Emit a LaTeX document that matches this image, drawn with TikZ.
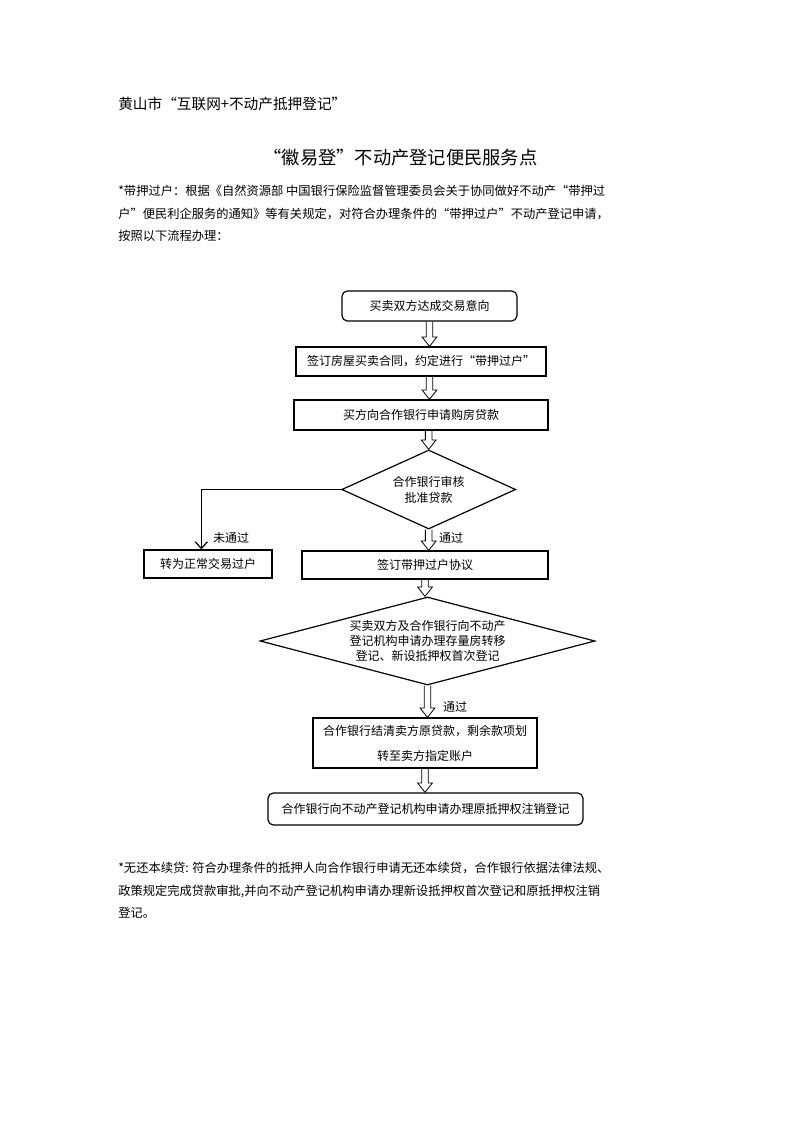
\documentclass[tikz,border=0pt]{standalone}
\usepackage{fontspec}
\setmainfont{Noto Sans CJK SC}
\usetikzlibrary{shapes.geometric,arrows.meta,calc}
\tikzset{
  box/.style={draw,line width=0.9pt,inner sep=0pt,align=center,font=\fontsize{9}{12}\selectfont},
  rbox/.style={box,rounded corners=4pt},
  dia/.style={box,diamond,aspect=2.2},
  blockarrow/.style={draw,line width=0.6pt,to path={let \p1=(\tikztostart),\p2=(\tikztotarget) in
    (\x1-2.5pt,\y1) -- (\x1-2.5pt,\y2+7pt) -- (\x1-5.5pt,\y2+7pt) -- (\x1,\y2)
    -- (\x1+5.5pt,\y2+7pt) -- (\x1+2.5pt,\y2+7pt) -- (\x1+2.5pt,\y1)}},
  lbl/.style={font=\fontsize{9}{11}\selectfont,inner sep=0pt},
  para/.style={anchor=north west,align=left,inner sep=0pt,font=\fontsize{9.2}{16.9}\selectfont}
}
\begin{document}
\begin{tikzpicture}[x=0.75pt,y=-0.75pt]
  \fill[white] (0,0) rectangle (793,1122);

  \node[anchor=west,inner sep=0pt,font=\fontsize{11}{12}\selectfont] (hd) at (118,104) {黄山市“互联网+不动产抵押登记”};
  \node[inner sep=0pt,font=\fontsize{13.7}{16}\selectfont] (tt) at (400.5,158) {“徽易登”不动产登记便民服务点};
  \node[para] (p1) at (118,185) {*带押过户：根据《自然资源部 中国银行保险监督管理委员会关于协同做好不动产“带押过\\户”便民利企服务的通知》等有关规定，对符合办理条件的“带押过户”不动产登记申请，\\按照以下流程办理：};

  \node[rbox,minimum width=131.25pt,minimum height=22.5pt] (a) at (429.5,306) {买卖双方达成交易意向};
  \node[box,minimum width=187.5pt,minimum height=21.75pt] (b) at (421,361.5) {签订房屋买卖合同，约定进行“带押过户”};
  \node[box,minimum width=190.5pt,minimum height=22.5pt] (c) at (421,415) {买方向合作银行申请购房贷款};
  \node[dia,minimum width=130.5pt,minimum height=59.25pt] (d) at (428.7,489.5) {合作银行审核\\批准贷款};
  \node[box,minimum width=96pt,minimum height=21pt] (e) at (208,564) {转为正常交易过户};
  \node[box,minimum width=184.5pt,minimum height=21pt] (f) at (425,565) {签订带押过户协议};
  \node[dia,aspect=3.8,minimum width=251.25pt,minimum height=66pt,font=\fontsize{9}{11.25}\selectfont] (g) at (427.5,641) {买卖双方及合作银行向不动产\\登记机构申请办理存量房转移\\登记、新设抵押权首次登记};
  \node[box,minimum width=168pt,minimum height=37.5pt,font=\fontsize{9}{18.75}\selectfont] (h) at (425,743) {合作银行结清卖方原贷款，剩余款项划\\转至卖方指定账户};
  \node[rbox,minimum width=236.25pt,minimum height=24pt] (i) at (425.5,809) {合作银行向不动产登记机构申请办理原抵押权注销登记};

  \draw[blockarrow] (a.south) to (b.north);
  \draw[blockarrow] (b.south -| a.south) to (c.north);
  \draw[blockarrow] (c.south -| d.north) to (d.north);
  \draw[blockarrow] (d.south) to (f.north);
  \draw[blockarrow] (f.south) to (g.north);
  \draw[blockarrow] (g.south) to (h.north);
  \draw[blockarrow] (h.south) to (i.north);
  \draw[line width=0.9pt,-{Straight Barb[length=5pt,width=9pt]}] (d.west) -| ([xshift=-5pt]e.north);

  \node[lbl] (no) at (231,538) {未通过};
  \node[lbl] (ok1) at (451,538) {通过};
  \node[lbl] (ok2) at (455,707) {通过};

  \node[para] (p2) at (118,862) {*无还本续贷: 符合办理条件的抵押人向合作银行申请无还本续贷，合作银行依据法律法规、\\政策规定完成贷款审批,并向不动产登记机构申请办理新设抵押权首次登记和原抵押权注销\\登记。};
\end{tikzpicture}
\end{document}
